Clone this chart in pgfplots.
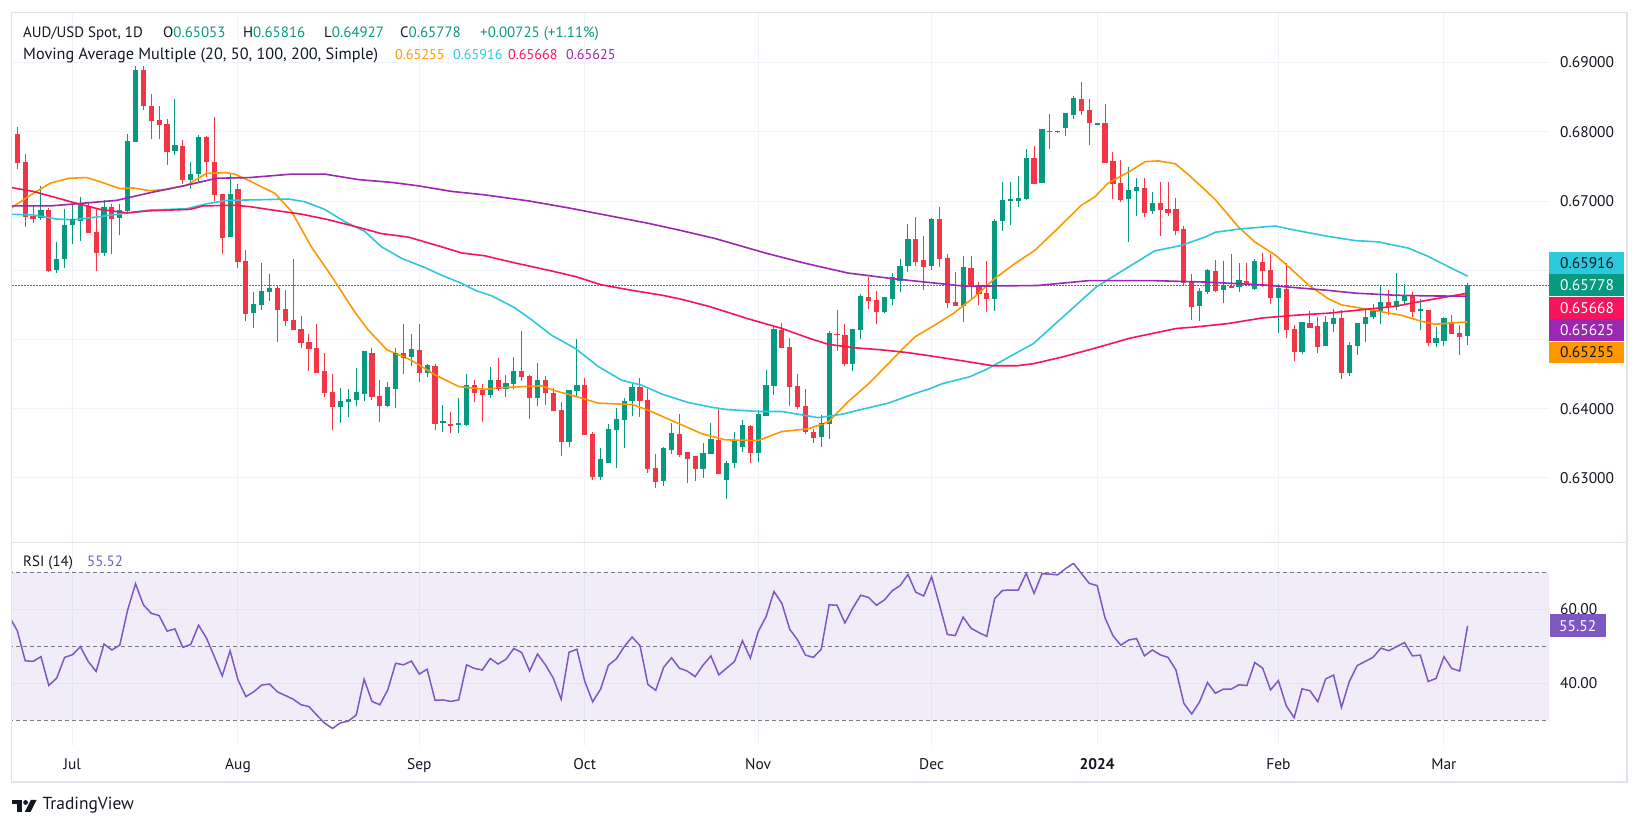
\documentclass[border=0pt]{standalone}
\usepackage{pgfplots}
\pgfplotsset{compat=1.18}
\usepackage{pgfplotstable}
\usepackage{fontspec}
\setmainfont{PT Sans}
\definecolor{cgreen}{HTML}{089981}
\definecolor{cred}{HTML}{F23645}
\definecolor{maor}{HTML}{FF9800}
\definecolor{macy}{HTML}{2EC8DC}
\definecolor{mard}{HTML}{F7145A}
\definecolor{mapu}{HTML}{9C27B0}
\definecolor{rsic}{HTML}{7E57C2}
\definecolor{txt}{HTML}{131722}
\definecolor{gridc}{HTML}{F0F3FA}
\definecolor{dashc}{HTML}{787B86}
\definecolor{framec}{HTML}{E0E3EB}
\newcommand{\fs}{\fontsize{15}{18}\selectfont}
\newcommand{\fsb}{\fontsize{16.3}{18}\selectfont}
\newcommand{\fsv}{\fontsize{14.2}{18}\selectfont}
\newcommand{\fsa}{\fontsize{15.5}{18}\selectfont}

\pgfplotstableread{
k O H L C
3 0.6675 0.6722 0.6672 0.6687
5 0.6600 0.6641 0.6596 0.6616
6 0.6616 0.6689 0.6603 0.6665
7 0.6665 0.6694 0.6638 0.6673
8 0.6671 0.6706 0.6643 0.6693
11 0.6625 0.6701 0.6621 0.6691
13 0.6675 0.6696 0.6651 0.6687
14 0.6686 0.6797 0.6683 0.6786
15 0.6786 0.6895 0.6786 0.6889
20 0.6772 0.6847 0.6767 0.6780
22 0.6731 0.6756 0.6717 0.6739
23 0.6739 0.6795 0.6727 0.6792
27 0.6648 0.6740 0.6648 0.6710
30 0.6538 0.6568 0.6516 0.6551
31 0.6550 0.6610 0.6543 0.6570
32 0.6568 0.6594 0.6556 0.6574
41 0.6403 0.6430 0.6380 0.6410
42 0.6410 0.6428 0.6388 0.6414
43 0.6412 0.6459 0.6404 0.6423
44 0.6421 0.6484 0.6411 0.6482
47 0.6404 0.6439 0.6402 0.6430
48 0.6428 0.6488 0.6401 0.6480
50 0.6475 0.6508 0.6462 0.6485
52 0.6452 0.6465 0.6446 0.6462
54 0.6379 0.6405 0.6366 0.6381
56 0.6376 0.6415 0.6365 0.6378
57 0.6377 0.6450 0.6375 0.6434
60 0.6420 0.6460 0.6416 0.6441
62 0.6429 0.6448 0.6417 0.6436
63 0.6436 0.6474 0.6429 0.6454
66 0.6416 0.6466 0.6404 0.6441
70 0.6352 0.6427 0.6345 0.6427
71 0.6426 0.6500 0.6417 0.6434
74 0.6302 0.6343 0.6297 0.6326
75 0.6322 0.6378 0.6321 0.6370
76 0.6369 0.6401 0.6314 0.6384
77 0.6384 0.6415 0.6343 0.6411
78 0.6411 0.6436 0.6390 0.6431
82 0.6295 0.6345 0.6288 0.6343
83 0.6340 0.6380 0.6334 0.6364
87 0.6313 0.6350 0.6300 0.6335
88 0.6335 0.6379 0.6334 0.6355
90 0.6297 0.6325 0.6270 0.6321
91 0.6321 0.6367 0.6314 0.6352
92 0.6345 0.6384 0.6338 0.6375
94 0.6336 0.6398 0.6323 0.6391
95 0.6389 0.6456 0.6389 0.6434
96 0.6433 0.6519 0.6420 0.6514
102 0.6359 0.6391 0.6345 0.6379
103 0.6378 0.6512 0.6356 0.6508
106 0.6465 0.6515 0.6454 0.6514
107 0.6514 0.6566 0.6501 0.6562
110 0.6540 0.6561 0.6539 0.6560
111 0.6559 0.6596 0.6550 0.6589
112 0.6585 0.6616 0.6568 0.6606
113 0.6606 0.6667 0.6597 0.6645
116 0.6606 0.6675 0.6601 0.6674
120 0.6549 0.6621 0.6525 0.6604
124 0.6559 0.6674 0.6541 0.6671
125 0.6671 0.6728 0.6657 0.6701
126 0.6701 0.6728 0.6665 0.6702
127 0.6700 0.6736 0.6691 0.6704
128 0.6703 0.6775 0.6701 0.6762
130 0.6726 0.6803 0.6726 0.6803
132 0.6800 0.6801 0.6799 0.6801
133 0.6805 0.6828 0.6794 0.6826
134 0.6825 0.6852 0.6819 0.6848
137 0.6811 0.6812 0.6810 0.6812
141 0.6703 0.6749 0.6641 0.6716
142 0.6714 0.6734 0.6679 0.6719
144 0.6685 0.6713 0.6681 0.6697
150 0.6548 0.6574 0.6527 0.6569
151 0.6568 0.6602 0.6566 0.6599
153 0.6571 0.6613 0.6553 0.6577
155 0.6576 0.6611 0.6568 0.6585
157 0.6573 0.6616 0.6571 0.6612
160 0.6560 0.6580 0.6510 0.6573
163 0.6482 0.6525 0.6479 0.6524
166 0.6490 0.6534 0.6490 0.6525
167 0.6523 0.6544 0.6511 0.6531
169 0.6452 0.6496 0.6447 0.6491
170 0.6491 0.6523 0.6478 0.6523
171 0.6523 0.6545 0.6496 0.6532
172 0.6532 0.6552 0.6529 0.6541
173 0.6540 0.6578 0.6523 0.6554
175 0.6547 0.6596 0.6542 0.6555
176 0.6555 0.6580 0.6551 0.6564
178 0.6541 0.6558 0.6513 0.6543
180 0.6495 0.6518 0.6489 0.6501
181 0.6498 0.6532 0.6491 0.6531
184 0.65053 0.65816 0.64927 0.65778
}\greencandles

\pgfplotstableread{
k O H L C
0 0.6797 0.6807 0.6746 0.6756
1 0.6756 0.6768 0.6663 0.6678
2 0.6678 0.6694 0.6669 0.6675
4 0.6687 0.6690 0.6598 0.6599
9 0.6693 0.6698 0.6654 0.6654
10 0.6655 0.6689 0.6599 0.6625
12 0.6691 0.6696 0.6624 0.6675
16 0.6889 0.6895 0.6832 0.6838
17 0.6838 0.6855 0.6789 0.6816
18 0.6817 0.6837 0.6790 0.6810
19 0.6811 0.6819 0.6752 0.6772
21 0.6780 0.6788 0.6724 0.6731
24 0.6792 0.6794 0.6735 0.6757
25 0.6757 0.6821 0.6700 0.6710
26 0.6710 0.6710 0.6624 0.6648
28 0.6717 0.6725 0.6604 0.6613
29 0.6613 0.6630 0.6527 0.6538
33 0.6574 0.6578 0.6496 0.6543
34 0.6544 0.6571 0.6520 0.6527
35 0.6528 0.6617 0.6514 0.6514
36 0.6515 0.6534 0.6487 0.6495
37 0.6496 0.6508 0.6455 0.6487
38 0.6488 0.6522 0.6452 0.6453
39 0.6455 0.6481 0.6417 0.6423
40 0.6424 0.6450 0.6369 0.6403
45 0.6480 0.6488 0.6412 0.6417
46 0.6418 0.6441 0.6381 0.6404
49 0.6480 0.6522 0.6450 0.6474
51 0.6485 0.6522 0.6439 0.6452
53 0.6462 0.6465 0.6369 0.6378
55 0.6378 0.6395 0.6365 0.6375
58 0.6434 0.6441 0.6409 0.6424
59 0.6427 0.6435 0.6381 0.6421
61 0.6441 0.6473 0.6426 0.6429
64 0.6454 0.6512 0.6440 0.6447
65 0.6447 0.6448 0.6385 0.6416
67 0.6441 0.6447 0.6406 0.6423
68 0.6422 0.6430 0.6397 0.6397
69 0.6398 0.6410 0.6331 0.6352
72 0.6434 0.6445 0.6362 0.6362
73 0.6363 0.6367 0.6297 0.6302
79 0.6431 0.6445 0.6388 0.6412
80 0.6413 0.6431 0.6307 0.6313
81 0.6314 0.6334 0.6285 0.6295
84 0.6364 0.6393 0.6330 0.6334
85 0.6337 0.6337 0.6292 0.6328
86 0.6331 0.6331 0.6295 0.6313
89 0.6355 0.6399 0.6305 0.6307
93 0.6375 0.6377 0.6322 0.6336
97 0.6514 0.6524 0.6488 0.6488
98 0.6489 0.6502 0.6404 0.6432
99 0.6433 0.6450 0.6399 0.6403
100 0.6404 0.6428 0.6363 0.6367
101 0.6367 0.6370 0.6350 0.6359
104 0.6508 0.6543 0.6484 0.6507
105 0.6506 0.6522 0.6462 0.6465
108 0.6562 0.6590 0.6544 0.6556
109 0.6557 0.6570 0.6522 0.6540
114 0.6645 0.6677 0.6606 0.6612
115 0.6615 0.6650 0.6572 0.6606
117 0.6674 0.6691 0.6605 0.6617
118 0.6618 0.6624 0.6545 0.6553
119 0.6554 0.6597 0.6549 0.6549
121 0.6604 0.6621 0.6559 0.6579
122 0.6579 0.6583 0.6550 0.6566
123 0.6567 0.6613 0.6540 0.6559
129 0.6762 0.6780 0.6726 0.6726
131 0.6802 0.6826 0.6775 0.6801
135 0.6848 0.6872 0.6825 0.6831
136 0.6832 0.6847 0.6781 0.6814
138 0.6813 0.6840 0.6756 0.6756
139 0.6758 0.6771 0.6703 0.6726
140 0.6726 0.6760 0.6698 0.6703
143 0.6719 0.6734 0.6677 0.6684
145 0.6697 0.6728 0.6649 0.6688
146 0.6688 0.6728 0.6678 0.6683
147 0.6688 0.6704 0.6651 0.6658
148 0.6659 0.6664 0.6578 0.6582
149 0.6583 0.6594 0.6528 0.6548
152 0.6599 0.6615 0.6568 0.6571
154 0.6578 0.6623 0.6575 0.6575
156 0.6585 0.6611 0.6580 0.6581
158 0.6612 0.6625 0.6576 0.6600
159 0.6601 0.6624 0.6551 0.6560
161 0.6573 0.6610 0.6502 0.6514
162 0.6515 0.6521 0.6469 0.6482
164 0.6524 0.6541 0.6516 0.6518
165 0.6519 0.6533 0.6481 0.6490
168 0.6531 0.6543 0.6443 0.6452
174 0.6554 0.6572 0.6535 0.6547
177 0.6564 0.6569 0.6532 0.6541
179 0.6543 0.6543 0.6490 0.6495
182 0.6525 0.6535 0.6509 0.6509
183 0.6509 0.6521 0.6478 0.6505
}\redcandles

\pgfplotsset{tvpane/.style={scale only axis, anchor=south west,
  width=1537bp, xmin=-0.6724, xmax=194.33,
  axis line style={draw=none}, tick style={draw=none},
  xtick={7,28,51,72,94,116,137,160,181},
  xticklabels={}, yticklabels={},
  scaled x ticks=false, scaled y ticks=false,
  grid=major, major grid style={draw=gridc, line width=1bp}},
  candle/.style 2 args={draw=none, mark=none, forget plot,
  error bars/.cd, y dir=plus, y explicit, error mark=none,
  error bar style={draw=#1, solid, line width=#2}}}

\begin{document}
\begin{tikzpicture}[x=1bp,y=1bp]
\fill[white] (0,0) rectangle (1640,829);

% ---------------- price pane ----------------
\begin{axis}[tvpane, at={(12bp,286.3bp)}, height=530bp,
  ymin=0.620636, ymax=0.697225,
  ytick={0.63,0.64,0.65,0.66,0.67,0.68,0.69}]
% wicks
\addplot[candle={cgreen}{1bp}]
  table[x=k, y=L, y error expr=\thisrow{H}-\thisrow{L}] {\greencandles};
\addplot[candle={cred}{1bp}]
  table[x=k, y=L, y error expr=\thisrow{H}-\thisrow{L}] {\redcandles};
% bodies
\addplot[candle={cgreen}{5.2bp}]
  table[x=k, y=O, y error expr=\thisrow{C}-\thisrow{O}] {\greencandles};
\addplot[candle={cred}{5.2bp}]
  table[x=k, y=C, y error expr=\thisrow{O}-\thisrow{C}] {\redcandles};
\addplot[draw=none, mark=-, mark size=2.6bp, mark options={draw=cgreen, solid, line width=1bp}]
  table[x=k, y=C] {\greencandles};
\addplot[draw=none, mark=-, mark size=2.6bp, mark options={draw=cred, solid, line width=1bp}]
  table[x=k, y=C] {\redcandles};
% last price line
\addplot[cgreen, line width=1bp, dash pattern=on 1.5bp off 1.5bp] coordinates {(-1,0.65778) (195,0.65778)};
% SMA 20
\addplot[maor, line width=1.6bp] coordinates {
(-1,0.6688) (-0.5,0.6692) (2,0.6711) (4.2,0.6726) (6.6,0.6733) (8.8,0.6734) (10.5,0.6728) (13,0.6718)
(14.7,0.6719) (16.8,0.6715) (18.9,0.6717) (21.5,0.6723) (24,0.6740) (26.5,0.6741) (27.6,0.6739)
(29.5,0.6729) (32.7,0.6711) (34.8,0.6685) (37.3,0.6634) (39.9,0.6591) (42.8,0.6540) (44.5,0.6514)
(46.9,0.6485) (50,0.6470) (53,0.6449) (56,0.6432) (59.3,0.6428) (62.3,0.6431) (66.5,0.6433)
(68.2,0.6426) (70.8,0.6418) (73.7,0.6408) (78,0.6406) (80,0.6398) (83.4,0.6381) (86.8,0.6364)
(89.8,0.6355) (94,0.6354) (97,0.6367) (100.4,0.6371) (102.9,0.6381) (105.4,0.6410) (108,0.6436)
(110.5,0.6465) (112.2,0.6485) (113.9,0.6504) (116,0.6518) (118.8,0.6538) (121.5,0.6562)
(124,0.6588) (126.6,0.6610) (129.1,0.6629) (131.6,0.6656) (133.3,0.6675) (135,0.6694)
(136.7,0.6706) (138.4,0.6726) (141,0.6742) (143.1,0.6757) (144.8,0.6758) (146.9,0.6754)
(148.6,0.6738) (150.7,0.6716) (152,0.6702) (154.9,0.6663) (157,0.6641) (159.6,0.6622)
(161.3,0.6605) (163.8,0.6579) (166.3,0.6559) (168,0.6550) (170.6,0.6545) (173.1,0.6540)
(175.6,0.6535) (178.2,0.6526) (179.9,0.6522) (183.3,0.6525) (184,0.65255)};
% SMA 50
\addplot[macy, line width=1.6bp] coordinates {
(-1,0.6681) (2,0.6680) (5,0.6674) (7.1,0.6673) (10.1,0.6677) (13.4,0.6682) (16.8,0.6687)
(21.5,0.6689) (24,0.6696) (26.6,0.6701) (31,0.6702) (34.4,0.6703) (36.5,0.6699) (39,0.6688)
(41.6,0.6670) (44.1,0.6656) (46.2,0.6634) (48.8,0.6617) (51.7,0.6604) (53.8,0.6593) (56.4,0.6581)
(58.1,0.6571) (60.2,0.6563) (63.1,0.6546) (65.3,0.6528) (67.8,0.6506) (70.8,0.6487) (73.7,0.6461)
(76.7,0.6441) (79.2,0.6434) (81.8,0.6421) (85.1,0.6409) (87.7,0.6403) (89.8,0.6399) (94,0.6396)
(97,0.6396) (101.6,0.6387) (104.6,0.6392) (107.5,0.6400) (110.5,0.6408) (113.9,0.6422)
(115.8,0.6429) (117.3,0.6436) (120.8,0.6446) (123,0.6457) (128.9,0.6494) (132.7,0.6533)
(136.9,0.6576) (140.3,0.6600) (141,0.6605) (144.3,0.6628) (147.7,0.6636) (150.7,0.6648)
(152,0.6655) (155.3,0.6660) (159.6,0.6664) (162.1,0.6658) (166.3,0.6649) (169.7,0.6643)
(172.7,0.6641) (176.5,0.6632) (179,0.6620) (181.6,0.6605) (184,0.65916)};
% SMA 100
\addplot[mard, line width=1.6bp] coordinates {
(-1,0.6721) (-0.5,0.6719) (2,0.6714) (4.6,0.6706) (7.1,0.6698) (10.5,0.6688) (13.9,0.6683)
(16.8,0.6686) (21.9,0.6688) (23.6,0.6693) (27.4,0.6694) (29.5,0.6692) (31.8,0.6688) (36.1,0.6681)
(39.5,0.6673) (43.3,0.6662) (46.2,0.6653) (49.6,0.6648) (53.8,0.6634) (56.4,0.6625) (59.3,0.6621)
(63,0.6611) (67.4,0.6600) (70.8,0.6591) (74.1,0.6579) (78,0.6571) (81.8,0.6564) (84.3,0.6558)
(87.7,0.6548) (92.7,0.6530) (97,0.6516) (100.4,0.6502) (102.9,0.6493) (106.3,0.6488)
(109.7,0.6485) (113,0.6481) (116,0.6476) (120,0.6469) (123.8,0.6462) (126.8,0.6462)
(128.9,0.6465) (132.7,0.6475) (136.9,0.6488) (141.2,0.6502) (147.1,0.6516) (149.4,0.6518)
(153.6,0.6523) (157.9,0.6531) (162.1,0.6535) (166.3,0.6538) (170.6,0.6543) (174.8,0.6548)
(179,0.6557) (184,0.65668)};
% SMA 200
\addplot[mapu, line width=1.6bp] coordinates {
(-1,0.6693) (4.2,0.6693) (8.4,0.6697) (12.6,0.6701) (16.8,0.6712) (21.1,0.6722) (25.3,0.6733)
(29.5,0.6734) (34.8,0.6739) (39,0.6739) (43.3,0.6731) (47.5,0.6727) (50.9,0.6722) (55.1,0.6714)
(59.3,0.6709) (65,0.6700) (70,0.6690) (75,0.6679) (80,0.6668) (84,0.6658) (88.5,0.6646)
(94.9,0.6625) (100,0.6610) (105.4,0.6596) (111,0.6588) (116,0.6582) (120.2,0.6577)
(129.4,0.6578) (135.9,0.6585) (144.3,0.6585) (150.7,0.6583) (157.9,0.6579) (162.1,0.6575)
(166.3,0.6571) (169.7,0.6567) (174.8,0.6564) (179,0.6563) (184,0.65625)};
\end{axis}

% ---------------- RSI pane ----------------
\begin{axis}[tvpane, at={(12bp,83bp)}, height=203.3bp,
  ymin=23.05, ymax=78.0, ytick={40,60}]
\fill[rsic, fill opacity=0.1] (axis cs:-1,30) rectangle (axis cs:195,70);
\addplot[dashc, line width=1bp, dash pattern=on 4bp off 3bp] coordinates {(-1,70) (195,70)};
\addplot[dashc, line width=1bp, dash pattern=on 4bp off 3bp] coordinates {(-1,50) (195,50)};
\addplot[dashc, line width=1bp, dash pattern=on 4bp off 3bp] coordinates {(-1,30) (195,30)};
\addplot[rsic, line width=1.5bp] coordinates {
(-1,58.0) (0,54.2) (1,46.1) (2,45.9) (3,47.2) (4,39.4) (5,41.4) (6,47.0) (7,47.7) (8,49.9) (9,45.9)
(10,43.2) (11,50.6) (12,49.0) (13,50.3) (14,59.8) (15,66.9) (16,61.2) (17,58.9) (18,58.3) (19,54.1)
(20,54.7) (21,49.7) (22,50.5) (23,55.7) (24,52.2) (25,47.2) (26,42.0) (27,48.8) (28,40.9) (29,36.4)
(30,37.7) (31,39.5) (32,39.8) (33,37.7) (34,36.7) (35,35.7) (36,34.2) (37,33.7) (38,31.4) (39,29.2)
(40,27.8) (41,29.3) (42,29.8) (43,31.4) (44,41.1) (45,35.1) (46,34.2) (47,38.2) (48,45.4) (49,45.0)
(50,46.0) (51,42.5) (52,43.8) (53,35.4) (54,35.5) (55,35.1) (56,35.5) (57,45.0) (58,44.0) (59,43.6)
(60,46.7) (61,45.2) (62,46.5) (63,49.4) (64,48.3) (65,43.3) (66,47.9) (67,45.0) (68,41.4) (69,35.7)
(70,48.4) (71,49.2) (72,40.5) (73,35.0) (74,38.4) (75,44.9) (76,46.6) (77,49.9) (78,52.5) (79,50.2)
(80,39.7) (81,38.1) (82,44.3) (83,46.9) (84,44.1) (85,43.3) (86,41.8) (87,44.9) (88,47.4) (89,42.3)
(90,44.1) (91,45.9) (92,51.5) (93,46.8) (94,54.0) (95,58.0) (96,64.8) (97,61.6) (98,54.6) (99,51.7)
(100,47.6) (101,47.0) (102,49.2) (103,61.2) (104,61.1) (105,56.3) (106,60.3) (107,63.8) (108,63.2)
(109,61.1) (110,62.5) (111,65.0) (112,66.4) (113,69.4) (114,64.6) (115,63.6) (116,68.8) (117,61.2)
(118,53.2) (119,52.9) (120,57.9) (121,54.9) (122,53.7) (123,52.7) (124,62.9) (125,65.1) (126,65.2)
(127,65.2) (128,69.7) (129,64.3) (130,69.6) (131,69.5) (132,69.3) (133,71.0) (134,72.4) (135,69.7)
(136,67.0) (137,66.4) (138,57.7) (139,52.9) (140,50.3) (141,51.7) (142,52.1) (143,47.4) (144,49.0)
(145,47.7) (146,47.0) (147,43.6) (148,34.6) (149,31.7) (150,35.0) (151,40.2) (152,37.3) (153,38.4)
(154,38.4) (155,39.6) (156,39.4) (157,45.6) (158,44.1) (159,38.2) (160,40.7) (161,33.9) (162,30.7)
(163,38.5) (164,38.0) (165,35.0) (166,41.2) (167,42.2) (168,33.5) (169,40.5) (170,44.8) (171,45.9)
(172,47.0) (173,49.5) (174,48.8) (175,49.9) (176,51.0) (177,47.4) (178,47.6) (179,40.5) (180,41.3)
(181,47.2) (182,44.0) (183,43.3) (184,55.52)};
\end{axis}

% ---------------- frame and separators ----------------
\draw[framec, line width=1.5bp] (11.5,286.3) -- (1627,286.3);
\draw[framec, line width=1.5bp] (11.5,47) rectangle (1627,816.5);

% ---------------- legend texts ----------------
\begin{scope}[every node/.style={anchor=base west, inner sep=0pt, text=txt, font=\fs}]
\node at (23,791.3) {AUD/USD Spot, 1D};
\node at (163,791.3) {O\textcolor{cgreen}{0.65053}};
\node at (243,791.3) {H\textcolor{cgreen}{0.65816}};
\node at (324,791.3) {L\textcolor{cgreen}{0.64927}};
\node at (400,791.3) {C\textcolor{cgreen}{0.65778}};
\node at (480,791.3) {\textcolor{cgreen}{+0.00725 (+1.11\%)}};
\node[font=\fsb] at (23,769.3) {Moving Average Multiple (20, 50, 100, 200, Simple)};
\node[font=\fsv] at (395,769.3) {\textcolor{maor}{0.65255}};
\node[font=\fsv] at (453,769.3) {\textcolor{macy}{0.65916}};
\node[font=\fsv] at (508,769.3) {\textcolor{mard}{0.65668}};
\node[font=\fsv] at (566,769.3) {\textcolor{mapu}{0.65625}};
\node at (23,262) {RSI (14)};
\node at (87,262) {\textcolor{rsic}{55.52}};
\end{scope}

% ---------------- price scale ----------------
\begin{scope}[every node/.style={anchor=base west, inner sep=0pt, text=txt, font=\fsa}]
\node at (1560,761.5) {0.69000};
\node at (1560,691.9) {0.68000};
\node at (1560,622.7) {0.67000};
\node at (1560,414.9) {0.64000};
\node at (1560,345.7) {0.63000};
\fill[macy] (1549,555) rectangle (1624,577);
\node at (1560,560.8) {0.65916};
\fill[cgreen] (1549,532.5) rectangle (1624,554.5);
\node[text=white] at (1560,538.3) {0.65778};
\fill[mard] (1549,510) rectangle (1624,532);
\node[text=white] at (1560,515.8) {0.65668};
\fill[mapu] (1549,487.5) rectangle (1624,509.5);
\node[text=white] at (1560,493.3) {0.65625};
\fill[maor] (1549,465.5) rectangle (1624,487);
\node at (1560,471.3) {0.65255};
% RSI scale
\node at (1560,214.5) {60.00};
\node at (1560,140.5) {40.00};
\fill[rsic] (1550,192) rectangle (1606,214.5);
\node[text=white] at (1559,197.9) {55.52};
\end{scope}

% ---------------- time axis ----------------
\begin{scope}[every node/.style={anchor=base, inner sep=0pt, text=txt, font=\fsa}]
\node at (72.3,59.5) {Jul};
\node at (238.0,59.5) {Aug};
\node at (419.3,59.5) {Sep};
\node at (584.8,59.5) {Oct};
\node at (758.2,59.5) {Nov};
\node at (931.6,59.5) {Dec};
\node at (1097.1,59.5) {\bfseries 2024};
\node at (1278.4,59.5) {Feb};
\node at (1443.9,59.5) {Mar};
\end{scope}

% ---------------- TradingView logo ----------------
\fill[txt] (11.5,24.5) rectangle (21.5,29);
\fill[txt] (16.5,17) rectangle (21.5,29);
\fill[txt] (25.6,26.5) circle (2.4);
\fill[txt] (30.8,29) -- (36.6,29) -- (30.6,17) -- (24.8,17) -- cycle;
\node[anchor=base west, inner sep=0pt, text=txt, font=\fontsize{17.5}{20}\selectfont] at (42.4,19) {TradingView};
\end{tikzpicture}
\end{document}
